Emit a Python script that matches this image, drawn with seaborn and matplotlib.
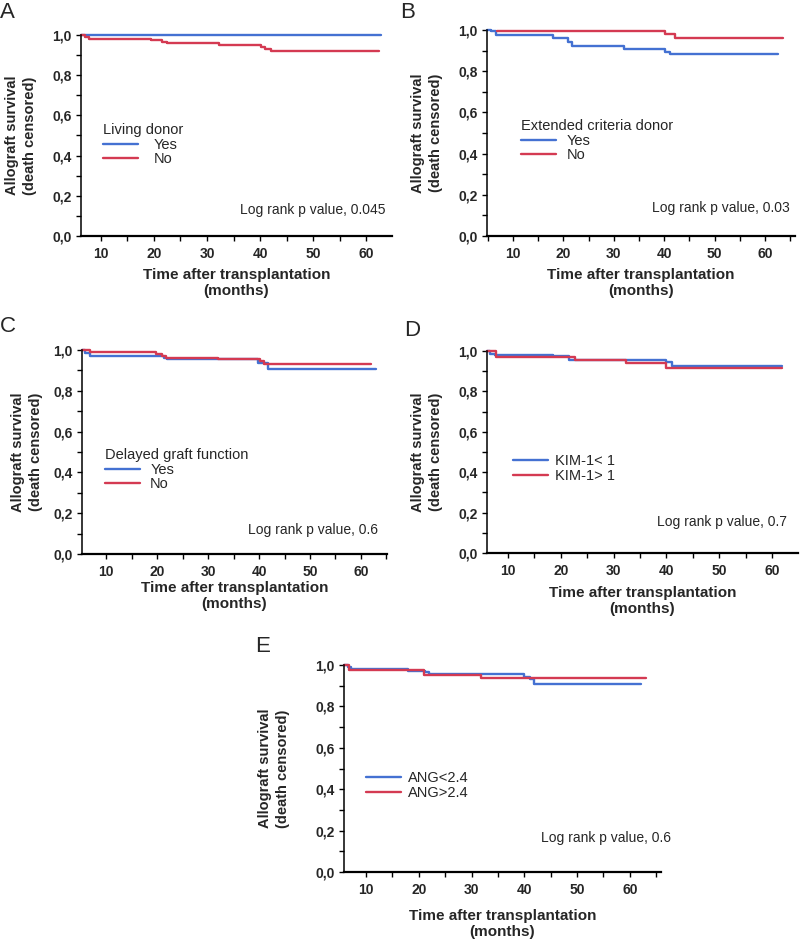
import numpy as np
import pandas as pd
import seaborn as sns
import matplotlib.pyplot as plt
from matplotlib.ticker import MultipleLocator

# ---- data (time in months, survival fraction) ----
a_yes_t = [6.3, 62.8]
a_yes_s = [1.0, 1.0]
a_no_t = [6.3, 7.0, 7.8, 19.5, 21.6, 22.4, 32.3, 40.2, 41.0, 42.0, 62.5]
a_no_s = [1.0, 0.99, 0.982, 0.973, 0.963, 0.958, 0.951, 0.94, 0.93, 0.922, 0.922]

b_yes_t = [4.9, 5.7, 6.7, 17.9, 20.9, 21.8, 32.0, 40.1, 41.1, 62.6]
b_yes_s = [1.0, 0.995, 0.974, 0.96, 0.94, 0.924, 0.909, 0.895, 0.882, 0.882]
b_no_t = [6.8, 40.1, 42.1, 63.6]
b_no_s = [0.995, 0.982, 0.963, 0.963]

c_yes_t = [5.3, 5.9, 6.9, 21.3, 21.9, 39.9, 41.7, 63.0]
c_yes_s = [1.0, 0.985, 0.97, 0.962, 0.955, 0.935, 0.908, 0.908]
c_no_t = [5.3, 6.9, 19.8, 20.9, 21.7, 32.0, 40.2, 41.0, 62.0]
c_no_s = [1.0, 0.988, 0.98, 0.97, 0.962, 0.955, 0.945, 0.93, 0.93]

d_lo_t = [6.1, 6.6, 7.5, 18.6, 21.6, 40.0, 41.1, 61.8]
d_lo_s = [1.0, 0.985, 0.98, 0.973, 0.955, 0.945, 0.928, 0.928]
d_hi_t = [6.1, 7.8, 22.6, 32.3, 40.0, 61.8]
d_hi_s = [1.0, 0.972, 0.955, 0.94, 0.915, 0.915]

e_lo_t = [5.9, 6.5, 7.2, 17.9, 21.1, 22.0, 40.0, 41.0, 41.9, 62.2]
e_lo_s = [1.0, 0.99, 0.98, 0.973, 0.965, 0.958, 0.94, 0.93, 0.91, 0.91]
e_hi_t = [5.9, 6.8, 21.0, 31.8, 63.1]
e_hi_s = [1.0, 0.975, 0.95, 0.937, 0.937]

x_ticks = [10, 20, 30, 40, 50, 60]
y_ticks = [0.0, 0.2, 0.4, 0.6, 0.8, 1.0]
y_tick_labels = ["0,0", "0,2", "0,4", "0,6", "0,8", "1,0"]

BLUE = "#4471d2"
RED = "#d43a52"

sns.set_style("ticks")
plt.rcParams["font.family"] = ["Liberation Sans", "DejaVu Sans"]

W, H = 800, 947
fig = plt.figure(figsize=(W / 100, H / 100), dpi=100)


def fx(x):
    return x / W


def fy(y):
    return 1 - y / H


# panel layout in pixels: axes box (left, top, right, bottom), x-range, legend anchor, etc.
panels = [
    dict(letter="A", box=(81, 35, 392, 236), xlim=(6.23, 64.9),
         series=[(a_yes_t, a_yes_s, "Yes"), (a_no_t, a_no_s, "No")],
         title="Living donor", leg=(103, 123), htp=1.1,
         p="Log rank p value, 0.045", ptxt=(386, 210), letter_xy=(0, 2),
         ylab_x=37, xlab_y=268),
    dict(letter="B", box=(487, 30, 795, 236), xlim=(4.84, 65.95),
         series=[(b_yes_t, b_yes_s, "Yes"), (b_no_t, b_no_s, "No")],
         title="Extended criteria donor", leg=(521, 119), htp=0.75,
         p="Log rank p value, 0.03", ptxt=(790, 208), letter_xy=(400, 2),
         ylab_x=443, xlab_y=268),
    dict(letter="C", box=(82, 350, 387, 554), xlim=(5.29, 65.1),
         series=[(c_yes_t, c_yes_s, "Yes"), (c_no_t, c_no_s, "No")],
         title="Delayed graft function", leg=(105, 448), htp=0.7,
         p="Log rank p value, 0.6", ptxt=(378, 530), letter_xy=(0, 316),
         ylab_x=43, xlab_y=581),
    dict(letter="D", box=(487, 351, 798, 553), xlim=(6.02, 64.9),
         series=[(d_lo_t, d_lo_s, "KIM-1< 1"), (d_hi_t, d_hi_s, "KIM-1> 1")],
         title=None, leg=(513, 454), htp=0.5,
         p="Log rank p value, 0.7", ptxt=(787, 522), letter_xy=(404, 320),
         ylab_x=443, xlab_y=586),
    dict(letter="E", box=(344, 665, 661, 872), xlim=(5.83, 65.9),
         series=[(e_lo_t, e_lo_s, "ANG<2.4"), (e_hi_t, e_hi_s, "ANG>2.4")],
         title=None, leg=(366, 771), htp=0.45,
         p="Log rank p value, 0.6", ptxt=(671, 838), letter_xy=(255, 636),
         ylab_x=290, xlab_y=909),
]

for pn in panels:
    l, t, r, b = pn["box"]
    ax = fig.add_axes([fx(l), fy(b), (r - l) / W, (b - t) / H])

    frames = []
    for tt, ss, name in pn["series"]:
        frames.append(pd.DataFrame({"time": tt, "surv": ss, "group": name}))
    df = pd.concat(frames, ignore_index=True)
    names = [s[2] for s in pn["series"]]

    sns.lineplot(data=df, x="time", y="surv", hue="group", hue_order=names,
                 palette=[BLUE, RED], drawstyle="steps-post", estimator=None,
                 sort=False, errorbar=None, linewidth=1.7, legend=False,
                 clip_on=False, ax=ax)

    ax.set_xlim(*pn["xlim"])
    ax.set_ylim(0, 1.0)
    ax.set_xticks(x_ticks)
    ax.set_xticklabels([str(v) for v in x_ticks])
    ax.set_yticks(y_ticks)
    ax.set_yticklabels(y_tick_labels)
    ax.xaxis.set_minor_locator(MultipleLocator(5))
    ax.yaxis.set_minor_locator(MultipleLocator(0.1))
    ax.tick_params(axis="both", which="both", direction="out", length=3.5,
                   width=1.0, color="black")
    ax.tick_params(axis="x", which="major", pad=4.5, labelsize=10)
    ax.tick_params(axis="y", which="major", pad=3, labelsize=10)
    for lab in ax.get_xticklabels() + ax.get_yticklabels():
        lab.set_fontweight("bold")

    sns.despine(ax=ax)
    ax.spines["left"].set_linewidth(1.1)
    ax.spines["bottom"].set_linewidth(1.6)
    ax.spines["left"].set_color("black")
    ax.spines["bottom"].set_color("black")

    ax.set_ylabel("Allograft survival\n(death censored)", fontsize=10.5,
                  fontweight="bold", linespacing=1.35)
    ax.yaxis.set_label_coords(fx(pn["ylab_x"]), fy((t + b) / 2),
                              transform=fig.transFigure)
    ax.set_xlabel("Time after transplantation\n(months)", fontsize=11,
                  fontweight="bold", linespacing=1.2)
    ax.xaxis.set_label_coords(fx((l + r) / 2), fy(pn["xlab_y"]),
                              transform=fig.transFigure)

    leg_kw = dict(loc="upper left", bbox_to_anchor=(fx(pn["leg"][0]), fy(pn["leg"][1])),
                  bbox_transform=fig.transFigure, frameon=False, borderpad=0,
                  borderaxespad=0, handlelength=2.4, handletextpad=pn["htp"],
                  labelspacing=0.05, fontsize=10.5)
    if pn["title"]:
        ax.legend(ax.lines[:2], names, title=pn["title"], title_fontsize=10.5,
                  alignment="left", **leg_kw)
    else:
        ax.legend(ax.lines[:2], names, **leg_kw)

    fig.text(fx(pn["ptxt"][0]), fy(pn["ptxt"][1]), pn["p"], ha="right",
             va="center", fontsize=10)
    fig.text(fx(pn["letter_xy"][0]), fy(pn["letter_xy"][1]), pn["letter"],
             ha="left", va="top", fontsize=16)

fig.savefig("out.png", dpi=100)
